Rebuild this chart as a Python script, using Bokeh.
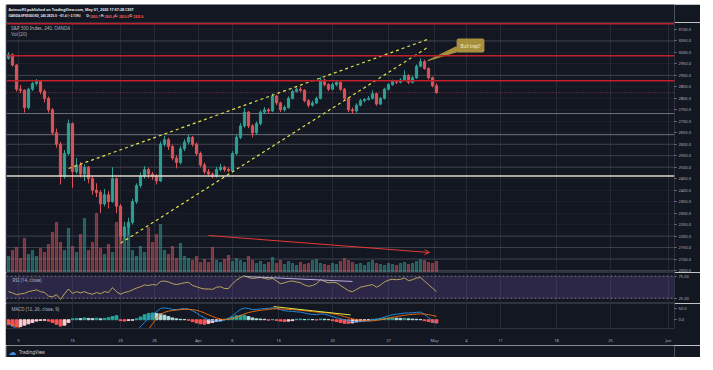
from bokeh.plotting import figure
from bokeh.layouts import column
from bokeh.models import (Range1d, FixedTicker, PrintfTickFormatter, Grid, Span,
                          BoxAnnotation, Label, Arrow, OpenHead, ColumnDataSource)
from bokeh.core.properties import value
from bokeh.embed import file_html
from bokeh.resources import INLINE

BG = "#131722"
BORDER = "#2f3340"
VGRID = "#262a35"
HGRID = "#1b1f2a"
LEVEL = "#3d414d"
AXIS_TEXT = "#b2b5be"
UP = "#2f9f93"
DOWN = "#d9545a"
FONT = "Noto Sans"

# ---------------- data (4h bars, S&P 500 CFD, OANDA) ----------------
first_open = 2975.0
close = [
    2990, 2945, 2840, 2835, 2760, 2840, 2865, 2875, 2830, 2800,
    2750, 2650, 2600, 2460, 2560, 2690, 2480, 2510, 2470, 2500,
    2450, 2400, 2390, 2340, 2380, 2350, 2450, 2330, 2200, 2240,
    2260, 2350, 2420, 2460, 2490, 2470, 2460, 2440, 2600, 2620,
    2590, 2540, 2520, 2580, 2610, 2630, 2600, 2560, 2510, 2480,
    2470, 2460, 2490, 2500, 2490, 2485, 2560, 2630, 2680, 2740,
    2680, 2650, 2690, 2740, 2750, 2745, 2810, 2780, 2750, 2760,
    2800, 2830, 2840, 2835, 2790, 2770, 2780, 2800, 2880, 2860,
    2840, 2860, 2870, 2840, 2800, 2750, 2745, 2770, 2790, 2795,
    2800, 2820, 2775, 2800, 2840, 2860, 2875, 2870, 2880, 2900,
    2870, 2890, 2940, 2960, 2930, 2890, 2855, 2825]
high = [
    3001, 2996, 2950, 2858, 2840, 2846, 2872, 2884, 2880, 2840,
    2808, 2758, 2668, 2610, 2575, 2708, 2695, 2540, 2522, 2512,
    2505, 2462, 2430, 2400, 2405, 2395, 2500, 2455, 2340, 2262,
    2280, 2362, 2430, 2478, 2505, 2498, 2480, 2470, 2612, 2636,
    2628, 2598, 2552, 2592, 2622, 2641, 2636, 2608, 2568, 2520,
    2492, 2478, 2502, 2515, 2506, 2498, 2570, 2640, 2692, 2758,
    2745, 2688, 2700, 2748, 2762, 2758, 2822, 2815, 2786, 2770,
    2808, 2838, 2847, 2850, 2840, 2796, 2790, 2808, 2892, 2886,
    2866, 2868, 2878, 2874, 2845, 2805, 2760, 2778, 2798, 2802,
    2810, 2835, 2825, 2806, 2846, 2866, 2882, 2880, 2888, 2922,
    2905, 2898, 2948, 2975, 2968, 2935, 2895, 2865]
low = [
    2968, 2938, 2830, 2822, 2738, 2752, 2832, 2855, 2818, 2782,
    2738, 2640, 2585, 2425, 2450, 2552, 2410, 2470, 2455, 2440,
    2430, 2380, 2370, 2300, 2330, 2320, 2345, 2300, 2180, 2185,
    2205, 2250, 2340, 2410, 2450, 2452, 2445, 2425, 2435, 2590,
    2575, 2530, 2495, 2512, 2570, 2600, 2590, 2550, 2500, 2470,
    2460, 2452, 2455, 2482, 2480, 2478, 2480, 2552, 2622, 2672,
    2670, 2630, 2642, 2682, 2732, 2735, 2740, 2770, 2740, 2742,
    2755, 2795, 2825, 2826, 2782, 2760, 2764, 2775, 2795, 2852,
    2832, 2835, 2852, 2832, 2792, 2740, 2732, 2738, 2765, 2782,
    2790, 2795, 2768, 2770, 2795, 2834, 2855, 2862, 2865, 2875,
    2862, 2865, 2885, 2935, 2925, 2882, 2848, 2820]
volume = [
    16, 22, 25, 14, 34, 18, 22, 16, 24, 20,
    28, 40, 50, 30, 22, 44, 26, 20, 38, 54,
    22, 30, 59, 24, 18, 28, 20, 50, 45, 40,
    48, 22, 16, 26, 20, 45, 30, 38, 48, 22,
    18, 26, 14, 29, 16, 14, 12, 16, 10, 13,
    10, 25, 12, 10, 13, 17, 11, 14, 12, 10,
    16, 12, 9, 11, 8, 10, 15, 9, 12, 8,
    11, 9, 7, 10, 8, 9, 12, 13, 9, 8,
    7, 9, 8, 11, 14, 12, 10, 8, 9, 7,
    10, 12, 9, 8, 7, 9, 8, 7, 9, 10,
    8, 9, 11, 13, 12, 10, 9, 11]
rsi = [
    40, 37, 33, 35, 36, 40, 42, 44, 40, 38,
    30, 28, 33, 22, 35, 46, 36, 40, 37, 40,
    36, 34, 38, 35, 40, 38, 49, 40, 34, 38,
    40, 44, 48, 51, 55, 54, 56, 55, 63, 64,
    62, 58, 56, 58, 60, 61, 54, 51, 48, 46,
    46, 45, 50, 51, 47, 47, 58, 66, 72, 76,
    72, 70, 71, 72, 70, 68, 70, 64, 58, 60,
    63, 64, 62, 60, 55, 52, 54, 58, 67, 63,
    60, 61, 60, 54, 48, 42, 40, 45, 50, 52,
    54, 56, 50, 55, 62, 66, 68, 67, 68, 71,
    65, 67, 71, 72, 64, 56, 48, 40]
macd = [
    -18, -28, -42, -55, -68, -72, -70, -66, -64, -66,
    -72, -84, -98, -118, -122, -112, -120, -122, -124, -122,
    -124, -128, -130, -134, -132, -132, -124, -128, -140, -140,
    -132, -110, -60, -30, -12, 8, 22, 36, 50, 53,
    50, 46, 45, 48, 50, 48, 40, 30, 18, 8,
    0, -3, -6, -7, -2, 6, 18, 32, 46, 52,
    50, 45, 46, 48, 50, 51, 53, 50, 45, 40,
    38, 37, 35, 34, 30, 26, 24, 23, 26, 25,
    20, 14, 9, 5, 0, -4, -8, -9, -8, -6,
    -4, -1, 2, 6, 12, 18, 22, 25, 27, 30,
    30, 31, 33, 34, 24, 10, -4, -16]
signal = [
    -14, -20, -28, -38, -48, -56, -62, -65, -66, -66,
    -68, -72, -78, -88, -96, -100, -106, -110, -114, -116,
    -118, -120, -122, -124, -126, -128, -127, -128, -130, -132,
    -132, -128, -115, -96, -72, -44, -18, 8, 24, 33,
    38, 41, 43, 45, 46, 46, 45, 42, 37, 30,
    22, 15, 8, 3, 1, 2, 5, 11, 18, 26,
    32, 36, 39, 42, 44, 46, 48, 49, 48, 47,
    46, 45, 44, 42, 40, 38, 36, 34, 33, 32,
    30, 27, 23, 19, 14, 9, 4, 0, -3, -5,
    -6, -5, -3, 0, 3, 7, 11, 14, 17, 20,
    22, 24, 25, 26, 25, 23, 19, 15]
hist = [
    -22, -28, -32, -30, -24, -18, -12, -6, -3, -2,
    -6, -12, -20, -28, -24, -12, 4, 6, 5, 8,
    6, 5, 7, 4, 6, 9, 14, 18, -4, -6,
    -3, -2, 4, 12, 22, 28, 30, 28, 26, 20,
    14, 8, 4, 2, 1, -2, -8, -14, -18, -20,
    -16, -12, -8, -4, 2, 6, 12, 18, 20, 20,
    14, 8, 4, 3, 2, -2, 1, -3, -6, -8,
    -6, -4, 2, 3, 1, 2, 1, -1, 3, 2,
    1, -4, -8, -12, -16, -16, -14, -10, -7, -4,
    -2, 2, 3, 5, 7, 8, 8, 7, 6, 6,
    4, 3, 2, 1, -4, -8, -12, -14]

price_ticks = list(range(2050, 3101, 50))
time_tick_bars = [2.5, 16, 28, 36.5, 47.5, 56, 67.5, 81, 95, 106.5, 114.5, 123, 137, 150.5, 165]
time_tick_labels = ["9", "16", "23", "26", "Apr", "6", "13", "20", "27", "May", "4", "11", "18", "25", "Jun"]

red_levels = [3125.0, 2985.3, 2877.0]
beige_levels = [2733.8, 2641.8, 2461.4]
gray_levels = [3050, 2900, 2600, 2550, 2500, 2200, 2150, 2100, 2050]
last_price = 2825.0
countdown = "01:02:32"

wedge_upper_x, wedge_upper_y = [15.0, 104.75], [2494.3, 3056.4]
wedge_lower_x, wedge_lower_y = [28.0, 104.75], [2168.8, 3021.6]
vol_arrow_x, vol_arrow_y = [50.0, 105.25], [2202.4, 2128.3]
rsi_div_x, rsi_div_y = [59.0, 86.0], [74.5, 63.0]
macd_div_x, macd_div_y = [66.25, 85.5], [58.5, 21.5]
callout_text = "Bull trap?"
callout_xy = (115.5, 3030.0)
callout_tail_x = [111.8, 113.8, 104.8]
callout_tail_y = [3024.0, 3012.0, 2964.0]

header_line1 = "Asimov93 published on TradingView.com, May 01, 2020 17:57:28 CEST"
header_parts = ["OANDA:SPX500USD, 240 2825.0", "\u25bc", "\u221261.4 (\u22122.13%)", "O:", "2850.7",
                "H:", "2865.4", "L:", "2820.0", "C:", "2825.0"]
header_part_x = [2, 50, 54, 83, 87, 98, 102, 113, 117, 128, 132]
header_part_red = [False, True, False, False, True, False, True, False, True, False, True]

# ---------------- derived ----------------
N = len(close)
bars = list(range(N))
opens = [first_open] + close[:-1]
colors = [UP if c >= o else DOWN for o, c in zip(opens, close)]
src = ColumnDataSource(dict(
    x=bars, o=opens, c=close, h=high, l=low, v=volume, col=colors,
    top=[max(o, c) for o, c in zip(opens, close)],
    bot=[min(o, c) for o, c in zip(opens, close)],
    rsi=rsi, macd=macd, sig=signal, hist=hist,
))
hist_colors = []
prev = 0
for hv in hist:
    if hv >= 0:
        hist_colors.append("#26a69a" if hv >= prev else "#b2dfdb")
    else:
        hist_colors.append("#ff5252" if hv <= prev else "#ffcdd2")
    prev = hv
src.data["hcol"] = hist_colors

X_RANGE = Range1d(-0.5, 166.5)
W = 695


def pane(height, y_range, with_xaxis=False, bottom=0):
    kw = dict(width=W, height=height, x_range=X_RANGE, y_range=y_range,
              y_axis_location="right", toolbar_location=None, output_backend="svg",
              background_fill_color=BG, border_fill_color=BG, outline_line_color=BORDER,
              min_border=0, min_border_left=1, min_border_right=26, min_border_bottom=bottom)
    if not with_xaxis:
        kw["x_axis_type"] = None
    p = figure(**kw)
    if not with_xaxis:
        p.add_layout(Grid(dimension=0, ticker=FixedTicker(ticks=time_tick_bars),
                          grid_line_color=VGRID))
    return p


def style_yaxis(p, ticks, fmt):
    ax = p.yaxis[0]
    ax.ticker = FixedTicker(ticks=ticks)
    ax.formatter = PrintfTickFormatter(format=fmt)
    ax.major_label_text_font_size = "4px"
    ax.major_label_text_color = AXIS_TEXT
    ax.major_label_text_font = FONT
    ax.major_tick_out = 2
    ax.major_tick_in = 0
    ax.major_tick_line_color = "#787b86"
    ax.minor_tick_line_color = None
    ax.axis_line_color = BORDER
    ax.major_label_standoff = 2


def legend(p, x, y, text, size="4.5px", color=AXIS_TEXT):
    p.add_layout(Label(x=x, y=y, text=text, text_font_size=size, text_color=color,
                       text_font=FONT, text_baseline="middle", text_align="left"))


# ---------------- header ----------------
header = figure(width=W, height=18, x_range=Range1d(0, W), y_range=Range1d(0, 18),
                x_axis_type=None, y_axis_type=None, toolbar_location=None,
                output_backend="svg", background_fill_color=BG, border_fill_color=BG,
                outline_line_color=None, min_border=0)
header.text(x=[2], y=[13], text=[header_line1],
            text_font=value(FONT), text_font_size="3.7px", text_color="#e0e3eb",
            text_font_style="bold", text_baseline="middle")
header.text(x=header_part_x, y=[6.3] * len(header_parts), text=header_parts,
            text_color=["#ef5350" if r else "#e0e3eb" for r in header_part_red],
            text_font=value(FONT), text_font_size="3.2px",
            text_font_style="bold", text_baseline="middle")

# ---------------- main price pane ----------------
main = pane(250, Range1d(2041.2, 3130.5))
style_yaxis(main, price_ticks, "%.1f")
main.ygrid.grid_line_color = HGRID
main.extra_y_ranges = {"vol": Range1d(0, 250)}

for lv in gray_levels:
    main.add_layout(Span(location=lv, dimension="width", line_color=LEVEL, line_width=1, level="underlay"))
for lv in beige_levels[:2]:
    main.add_layout(Span(location=lv, dimension="width", line_color="#6e717c", line_width=1, level="underlay"))
main.add_layout(Span(location=beige_levels[2], dimension="width", line_color="#dcd8c8", line_width=1.5))

main.vbar(x="x", width=0.55, top="v", bottom=0, color="col", alpha=0.5, y_range_name="vol", source=src)
main.segment(x0="x", y0="h", x1="x", y1="l", color="col", line_width=1, source=src)
main.vbar(x="x", width=0.55, top="top", bottom="bot", fill_color="col", line_color="col", source=src)

for lv in red_levels:
    main.add_layout(Span(location=lv, dimension="width", line_color="#c2202a", line_width=1.5))
main.add_layout(Span(location=last_price, dimension="width", line_color="#f7525f",
                     line_alpha=0.6, line_dash="1 2", line_width=1))

main.line(wedge_upper_x, wedge_upper_y, line_color="#e2e24a", line_width=1.2, line_dash="3 3")
main.line(wedge_lower_x, wedge_lower_y, line_color="#e2e24a", line_width=1.2, line_dash="3 3")
main.add_layout(Arrow(end=OpenHead(size=5, line_color="#e53935", line_width=1),
                      x_start=vol_arrow_x[0], y_start=vol_arrow_y[0],
                      x_end=vol_arrow_x[1], y_end=vol_arrow_y[1],
                      line_color="#e53935", line_width=1))
main.patch(callout_tail_x, callout_tail_y, fill_color="#a88f3e", line_color="#a88f3e")
main.add_layout(Label(x=callout_xy[0], y=callout_xy[1], text=callout_text, text_align="center",
                      text_baseline="middle", text_font_size="4.5px", text_color="#f3eedc",
                      text_font=FONT, background_fill_color="#a88f3e", border_radius=2, padding=4))

legend(main, 0.7, 3106, "S&P 500 Index, 240, OANDA")
legend(main, 0.7, 3080, "Vol (20)")


def price_tag(p, y, text, bg, fg, y_offset=0):
    p.add_layout(Label(x=167.25, y=y, text=text, text_align="left", text_baseline="middle",
                       text_font_size="4px", text_font=FONT, text_color=fg,
                       background_fill_color=bg, padding=2, y_offset=y_offset))


for lv in red_levels:
    price_tag(main, lv, f"{lv:.1f}", "#e3212b", "#ffffff")
for lv in beige_levels:
    price_tag(main, lv, f"{lv:.1f}", "#f3ead0", "#131722")
price_tag(main, last_price, f"{last_price:.1f}", "#f0757b", "#ffffff")
price_tag(main, last_price, countdown, "#e8656b", "#ffffff", y_offset=-7)

# ---------------- RSI pane ----------------
rsi_p = pane(31, Range1d(13.0, 83.4))
style_yaxis(rsi_p, [25, 75], "%.2f")
rsi_p.ygrid.grid_line_color = None
rsi_p.add_layout(BoxAnnotation(bottom=25, top=75, fill_color="#7e57c2", fill_alpha=0.24,
                               line_color=None, level="underlay"))
for lv in (25, 75):
    rsi_p.add_layout(Span(location=lv, dimension="width", line_color="#787b86",
                          line_dash="2 2", line_width=1))
rsi_p.line("x", "rsi", source=src, line_color="#c9b65a", line_width=0.9)
rsi_p.line(rsi_div_x, rsi_div_y, line_color="#c9bde8", line_width=0.9)
legend(rsi_p, 1.0, 67.5, "RSI (14, close)")

# ---------------- MACD pane ----------------
macd_p = pane(42, Range1d(-38.9, 72.2), with_xaxis=True, bottom=12)
style_yaxis(macd_p, [0, 50], "%.1f")
macd_p.ygrid.grid_line_color = None
xa = macd_p.xaxis[0]
xa.ticker = FixedTicker(ticks=time_tick_bars)
xa.major_label_overrides = {t: s for t, s in zip(time_tick_bars, time_tick_labels)}
xa.major_label_text_font_size = "4px"
xa.major_label_text_color = AXIS_TEXT
xa.major_label_text_font = FONT
xa.major_tick_line_color = None
xa.minor_tick_line_color = None
xa.axis_line_color = BORDER
xa.major_label_standoff = 3
macd_p.xgrid.grid_line_color = VGRID
macd_p.vbar(x="x", width=0.7, top="hist", bottom=0, fill_color="hcol", line_color="hcol", source=src)
macd_p.line("x", "macd", source=src, line_color="#2196f3", line_width=0.9)
macd_p.line("x", "sig", source=src, line_color="#ff6d00", line_width=0.9)
macd_p.line(macd_div_x, macd_div_y, line_color="#e2e24a", line_width=1)
legend(macd_p, 0.75, 48.9, "MACD (12, 26, close, 9)")

# ---------------- footer ----------------
footer = figure(width=W, height=12, x_range=Range1d(0, W), y_range=Range1d(0, 12),
                x_axis_type=None, y_axis_type=None, toolbar_location=None,
                output_backend="svg", background_fill_color=BG, border_fill_color=BG,
                outline_line_color=None, min_border=0)
footer.text(x=[2], y=[5.5], text=["\u2601"], text_font=value("DejaVu Sans"),
            text_font_size="8px", text_color="#3f8fe0", text_baseline="middle")
footer.text(x=[13], y=[5.5], text=["TradingView"], text_font=value(FONT),
            text_font_size="4.5px", text_color="#d1d4dc", text_baseline="middle")

layout = column(header, main, rsi_p, macd_p, footer,
                styles={"margin-left": "5px", "margin-top": "4px"})
open("out.html", "w").write(file_html(layout, INLINE))
